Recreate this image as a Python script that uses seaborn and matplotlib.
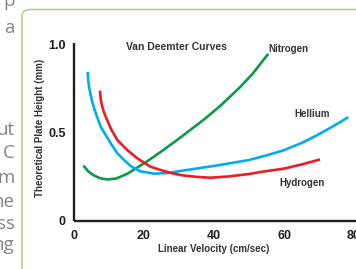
import matplotlib
matplotlib.use("Agg")
import matplotlib.pyplot as plt
from matplotlib.patches import FancyBboxPatch
import seaborn as sns
import pandas as pd

# ---- data ----
helium_x = [3.9, 4.05, 4.3, 5.0, 5.9, 7.62, 10.48, 12.38, 14.29, 16.4, 19.05, 22.86, 27.0, 31.2, 36.0, 40.8, 46.0, 50.3, 55.0, 59.8, 65.0, 69.3, 74.0, 78.4]
helium_y = [0.844, 0.80, 0.76, 0.69, 0.628, 0.533, 0.439, 0.382, 0.344, 0.306, 0.279, 0.266, 0.27, 0.284, 0.298, 0.3125, 0.33, 0.345, 0.37, 0.398, 0.44, 0.483, 0.535, 0.587]

hydrogen_x = [7.43, 7.5, 7.65, 8.0, 8.5, 9.05, 10.48, 12.38, 15.24, 18.1, 21.9, 25.24, 28.5, 31.2, 35.0, 38.9, 44.0, 50.3, 53.1, 59.8, 65.0, 70.3]
hydrogen_y = [0.738, 0.715, 0.69, 0.652, 0.618, 0.59, 0.524, 0.457, 0.40, 0.353, 0.305, 0.284, 0.266, 0.256, 0.248, 0.243, 0.25, 0.265, 0.275, 0.294, 0.318, 0.347]

nitrogen_x = [2.7, 4.0, 5.7, 7.5, 9.5, 12.0, 15.2, 18.0, 20.5, 23.0, 25.5, 29.3, 33.0, 37.4, 42.0, 47.4, 51.0, 55.5]
nitrogen_y = [0.3125, 0.28, 0.256, 0.24, 0.233, 0.238, 0.265, 0.30, 0.331, 0.365, 0.40, 0.455, 0.511, 0.578, 0.655, 0.757, 0.833, 0.947]

series_names = ["Nitrogen", "Helium", "Hydrogen"]
series_colors = {"Nitrogen": "#0b9a48", "Helium": "#00aeef", "Hydrogen": "#ed1c24"}

x_ticks = [0, 20, 40, 60, 80]
x_tick_labels = ["0", "20", "40", "60", "80"]
y_ticks = [0, 0.5, 1.0]
y_tick_labels = ["0", "0.5", "1.0"]

title_text = "Van Deemter Curves"
x_label = "Linear Velocity (cm/sec)"
y_label = "Theoretical Plate Height (mm)"
curve_labels = {"Nitrogen": "Nitrogen", "Helium": "Hellium", "Hydrogen": "Hydrogen"}

side_fragments = ["p", "a", "ut", "C", "m", "he", "ss", "ng"]

# ---- build table ----
frames = []
for name, xs, ys in [("Nitrogen", nitrogen_x, nitrogen_y),
                     ("Helium", helium_x, helium_y),
                     ("Hydrogen", hydrogen_x, hydrogen_y)]:
    frames.append(pd.DataFrame({"velocity": xs, "height": ys, "gas": name}))
df = pd.concat(frames, ignore_index=True)

sns.set_style("white")
plt.rcParams["font.family"] = ["Liberation Sans", "DejaVu Sans"]

W, H = 356, 269
fig = plt.figure(figsize=(W / 100, H / 100), dpi=100)
fig.patch.set_facecolor("white")

def fx(px):
    return px / W

def fy(py):
    return 1 - py / H

# green rounded frame
frame = FancyBboxPatch((fx(22), fy(300)), fx(400), fy(9.5) - fy(300),
                       boxstyle="round,pad=0,rounding_size=0.025",
                       transform=fig.transFigure, facecolor="none",
                       edgecolor="#a6d483", linewidth=1.1, zorder=0)
fig.patches.append(frame)

# side text fragments
side_baselines = [6, 33, 135, 158, 183, 207, 229, 250]
for t, b in zip(side_fragments, side_baselines):
    fig.text(fx(14.5), fy(b), t, ha="right", va="baseline", fontsize=13.5,
             color="#858585", family=["Open Sans", "DejaVu Sans"])

ax_left, ax_bottom_px, ax_top_px, ax_right = 74, 220.5, 42.74, 356
ax = fig.add_axes([fx(ax_left), fy(ax_bottom_px), fx(ax_right - ax_left),
                   fy(ax_top_px) - fy(ax_bottom_px)])
ax.set_facecolor("none")

for name in series_names:
    sub = df[df["gas"] == name]
    sns.lineplot(data=sub, x="velocity", y="height", color=series_colors[name],
                 sort=False, estimator=None, linewidth=1.9, ax=ax,
                 solid_capstyle="butt", solid_joinstyle="round")

ax.set_xlim(0, (ax_right - ax_left) / 3.5)
ax.set_ylim(0, 1.01)

ax.set_xticks(x_ticks)
ax.set_xticklabels(x_tick_labels)
ax.set_yticks(y_ticks)
ax.set_yticklabels(y_tick_labels)

spine_color = "#231f20"
for s in ["top", "right"]:
    ax.spines[s].set_visible(False)
for s in ["left", "bottom"]:
    ax.spines[s].set_color(spine_color)
    ax.spines[s].set_linewidth(1.7)
    ax.spines[s].set_capstyle("butt")

ax.tick_params(axis="both", direction="out", length=3, width=1.2, color=spine_color,
               labelsize=9, labelcolor=spine_color)
ax.tick_params(axis="x", pad=3.5)
ax.tick_params(axis="y", pad=3)
for lab in ax.get_xticklabels() + ax.get_yticklabels():
    lab.set_fontweight("bold")

ax.set_xlabel(x_label, fontsize=7, fontweight="bold", color="#333333")
ax.set_ylabel(y_label, fontsize=7, fontweight="bold", color="#333333")
ax_h = ax_bottom_px - ax_top_px
ax.xaxis.set_label_coords((214 - ax_left) / 282, -(243.5 - ax_bottom_px) / ax_h)
ax.yaxis.set_label_coords((45 - ax_left) / 282, (ax_bottom_px - 127.5) / ax_h)

ax.text(29.3, 0.986, title_text, ha="center", va="center", fontsize=7.5,
        fontweight="bold", color="#333333")
ax.text(55.5, 0.973, curve_labels["Nitrogen"], ha="left", va="center", fontsize=7,
        fontweight="bold", color="#333333")
ax.text(63.1, 0.605, curve_labels["Helium"], ha="left", va="center", fontsize=7,
        fontweight="bold", color="#333333")
ax.text(58.7, 0.211, curve_labels["Hydrogen"], ha="left", va="center", fontsize=7,
        fontweight="bold", color="#333333")

ax.grid(False)
fig.savefig("out.png", dpi=100, facecolor="white")
